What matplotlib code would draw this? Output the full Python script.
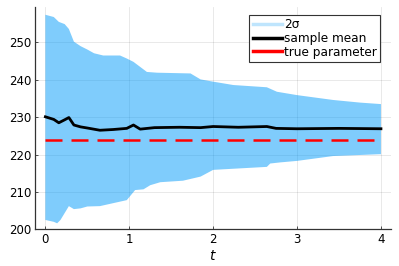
import numpy as np
import matplotlib
matplotlib.use("Agg")
import matplotlib.pyplot as plt
from matplotlib.lines import Line2D

# values
t_upper = [0.0, 0.1, 0.16, 0.23, 0.28, 0.34, 0.42, 0.5, 0.58, 0.69, 0.89, 0.97,
           1.05, 1.21, 1.33, 1.73, 1.85, 2.0, 2.24, 2.64, 2.76, 3.0, 3.43, 3.75, 4.0]
upper = [257.4, 256.8, 255.5, 254.9, 253.6, 250.2, 249.0, 248.1, 247.1, 246.5, 246.5, 245.7,
         244.8, 242.1, 241.9, 241.7, 240.1, 239.5, 238.6, 238.0, 236.8, 235.9, 234.6, 233.9, 233.5]

t_lower = [0.0, 0.1, 0.14, 0.18, 0.28, 0.34, 0.42, 0.5, 0.65, 0.81, 0.97, 1.07,
           1.17, 1.25, 1.37, 1.64, 1.85, 2.0, 2.08, 2.64, 2.68, 2.8, 3.0, 3.43, 4.0]
lower = [202.5, 202.0, 201.6, 202.5, 206.2, 205.4, 205.6, 206.1, 206.2, 207.0, 207.8, 210.5,
         210.7, 211.8, 212.6, 213.0, 214.1, 215.9, 216.0, 216.7, 217.6, 217.9, 218.3, 219.6, 220.1]

t_mean = [0.0, 0.1, 0.16, 0.23, 0.28, 0.34, 0.42, 0.5, 0.65, 0.81, 0.97, 1.05, 1.13,
          1.3, 1.6, 1.85, 2.0, 2.3, 2.64, 2.75, 3.0, 3.5, 4.0]
mean = [230.1, 229.4, 228.5, 229.3, 229.9, 227.9, 227.4, 227.1, 226.5, 226.7, 227.0, 227.9, 226.8,
        227.2, 227.3, 227.2, 227.5, 227.3, 227.5, 227.0, 226.9, 227.0, 226.9]

true_param = 224.0
t_range = [0.0, 4.0]

blue = "#009AFA"

fig = plt.figure(figsize=(3.99, 2.66), dpi=100)
ax = fig.add_axes([0.0885, 0.138, 0.8915, 0.836])

# band drawn as one polygon: upper edge then lower edge backwards
band_x = list(t_upper) + list(t_lower[::-1])
band_y = list(upper) + list(lower[::-1])
ax.fill(band_x, band_y, color=blue, alpha=0.5, lw=0)
ax.plot(t_mean, mean, color="black", lw=2.0)
ax.plot(t_range, [true_param, true_param], color="red", lw=1.8, ls=(0, (6.8, 3.6)))

ax.set_xlim(-0.12, 4.12)
ax.set_ylim(200, 259.5)
ax.set_xticks([0, 1, 2, 3, 4])
ax.set_yticks([200, 210, 220, 230, 240, 250])
ax.grid(True, color="black", alpha=0.1, lw=0.6)
ax.set_axisbelow(True)
for s in ["top", "right"]:
    ax.spines[s].set_visible(False)
for s in ["left", "bottom"]:
    ax.spines[s].set_color("#333333")
    ax.spines[s].set_linewidth(0.9)
ax.tick_params(direction="in", length=2.5, width=0.6, labelsize=8.5, colors="#333333",
               labelcolor="black", pad=3)
ax.set_xlabel("$t$", fontsize=10, labelpad=2)

handles = [Line2D([], [], color=blue, alpha=0.25, lw=2.5),
           Line2D([], [], color="black", lw=2.5),
           Line2D([], [], color="red", lw=2.5)]
leg = ax.legend(handles, ["2σ", "sample mean", "true parameter"], loc="upper right",
                bbox_to_anchor=(0.97, 0.965), borderaxespad=0, fontsize=8.7,
                fancybox=False, framealpha=1, edgecolor="#333333",
                handlelength=2.4, handletextpad=0.2, labelspacing=0.05, borderpad=0.3)
leg.get_frame().set_linewidth(0.8)

fig.savefig("out.png", dpi=100)
